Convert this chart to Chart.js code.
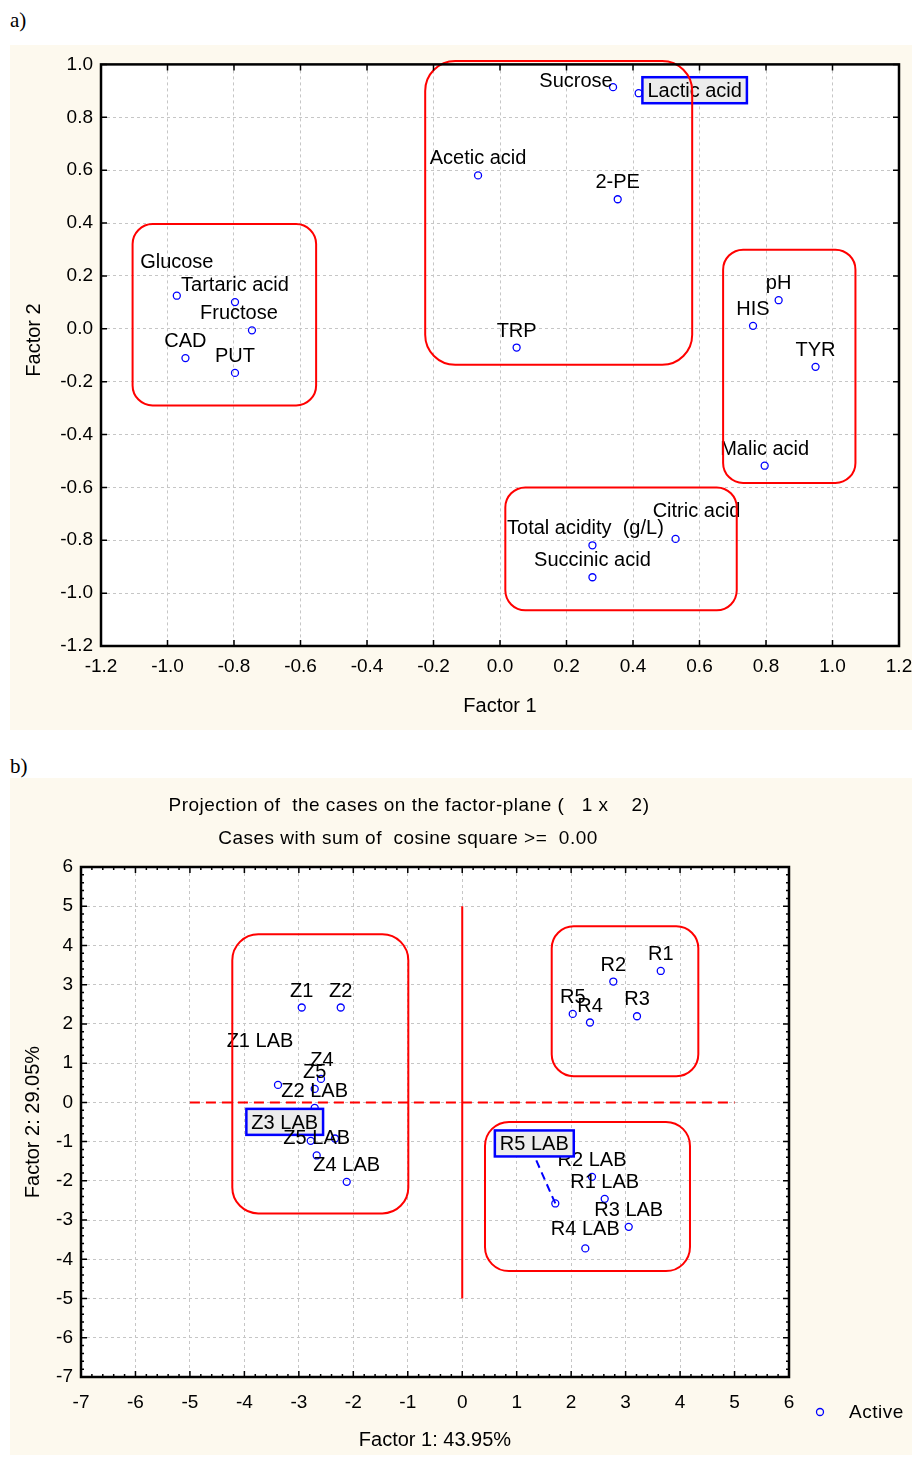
<!DOCTYPE html>
<html lang="en">
<head>
<meta charset="UTF-8">
<title>Factor analysis: loadings and case projection</title>
<script src="https://cdn.jsdelivr.net/npm/chart.js"></script>
<style>
  body { margin: 0; background: #fff; width: 914px; height: 1457px; position: relative; overflow: hidden; }
  .tag { position: absolute; left: 10px; font: 21px "Liberation Serif", "Times New Roman", serif; line-height: 24px; }
  .panel { position: absolute; left: 10px; background: #fdf9ee; }
</style>
</head>
<body>

<div class="tag" style="top:8px">a)</div>
<canvas id="loadingsChart" class="panel" width="902" height="685" style="top:45px"></canvas>

<div class="tag" style="top:754px">b)</div>
<canvas id="casesChart" class="panel" width="902" height="677" style="top:778px"></canvas>

<script>
// a) factor loadings of the variables
const variableNames = ['Sucrose', 'Lactic acid', 'Acetic acid', '2-PE', 'TRP', 'Glucose', 'Tartaric acid',
  'Fructose', 'CAD', 'PUT', 'pH', 'HIS', 'TYR', 'Malic acid', 'Total acidity  (g/L)', 'Citric acid', 'Succinic acid'];
const factor1Loadings = [0.340, 0.417, -0.066, 0.354, 0.050, -0.972, -0.797, -0.746, -0.946, -0.797,
  0.838, 0.761, 0.949, 0.796, 0.278, 0.528, 0.278];
const factor2Loadings = [0.914, 0.891, 0.580, 0.490, -0.071, 0.125, 0.101, -0.006, -0.111, -0.167,
  0.108, 0.011, -0.144, -0.518, -0.819, -0.795, -0.940];
const loadingTicksX = [-1.2, -1.0, -0.8, -0.6, -0.4, -0.2, 0.0, 0.2, 0.4, 0.6, 0.8, 1.0, 1.2];
const loadingTicksY = [-1.2, -1.0, -0.8, -0.6, -0.4, -0.2, 0.0, 0.2, 0.4, 0.6, 0.8, 1.0];

// b) projection of the cases
const caseNames = ['Z1', 'Z2', 'Z3', 'Z4', 'Z5', 'Z1 LAB', 'Z2 LAB', 'Z3 LAB', 'Z4 LAB', 'Z5 LAB',
  'R1', 'R2', 'R3', 'R4', 'R5', 'R1 LAB', 'R2 LAB', 'R3 LAB', 'R4 LAB', 'R5 LAB'];
const factor1Scores = [-2.947, -2.231, -2.336, -2.593, -2.709, -3.383, -2.709, -2.782, -2.121, -2.672,
  3.645, 2.774, 3.209, 2.346, 2.029, 2.616, 2.383, 3.057, 2.260, 1.709];
const factor2Scores = [2.418, 2.418, -0.920, 0.599, 0.344, 0.446, -0.140, -0.981, -2.025, -1.353,
  3.350, 3.080, 2.196, 2.036, 2.255, -2.459, -1.898, -3.172, -3.722, -2.576];
const caseTicks = [-7, -6, -5, -4, -3, -2, -1, 0, 1, 2, 3, 4, 5, 6];

// groups circled on the plots (data coordinates)
const loadingGroups = [
  { x1: -1.105, x2: -0.553, y1: 0.396, y2: -0.290, r: 20 },
  { x1: -0.225, x2: 0.578, y1: 1.013, y2: -0.136, r: 30 },
  { x1: 0.671, x2: 1.069, y1: 0.299, y2: -0.583, r: 20 },
  { x1: 0.016, x2: 0.712, y1: -0.600, y2: -1.065, r: 20 }
];
const caseGroups = [
  { x1: -4.222, x2: -0.990, y1: 4.285, y2: -2.831, r: 26 },
  { x1: 1.643, x2: 4.335, y1: 4.489, y2: 0.667, r: 22 },
  { x1: 0.418, x2: 4.182, y1: -0.497, y2: -4.301, r: 24 }
];

// labels moved away from the default place above the point (pixels)
const loadingLabelPos = {
  'Sucrose': { dx: -37, dy: 0 },
  'Lactic acid': { dx: 56, dy: 4, boxed: true },
  'Glucose': { dx: 0, dy: -28 },
  'Fructose': { dx: -13, dy: -11 },
  'Total acidity  (g/L)': { dx: -7, dy: -11 },
  'Citric acid': { dx: 21, dy: -22 }
};
const caseLabelPos = {
  'Z3': { hide: true },
  'Z4': { dx: 1, dy: -13 },
  'Z1 LAB': { dx: -18, dy: -38 },
  'Z3 LAB': { dx: -26, dy: -12, boxed: true },
  'R4 LAB': { dx: 0, dy: -13 },
  'R5 LAB': { dx: -21, dy: -53, boxed: true, leader: [-19, -43] }
};

const FONT = '"Liberation Sans", Arial, sans-serif';
Chart.defaults.font.family = FONT;
Chart.defaults.font.size = 19;
Chart.defaults.color = '#000';

function fixed1(v) {
  return Math.abs(v) < 1e-9 ? '0.0' : Number(v).toFixed(1);
}

function toPoints(xs, ys) {
  return xs.map((x, i) => ({ x: x, y: ys[i] }));
}

// draws white plot area, point labels, red group boxes, frame and inner ticks
function overlay(cfg) {
  return {
    id: 'overlay',
    beforeDraw(chart) {
      const { ctx, chartArea: a } = chart;
      ctx.save();
      ctx.fillStyle = '#ffffff';
      ctx.fillRect(a.left, a.top, a.right - a.left, a.bottom - a.top);
      ctx.restore();
    },
    afterDatasetsDraw(chart) {
      const { ctx } = chart;
      const xs = chart.scales.x, ys = chart.scales.y;
      const pts = chart.getDatasetMeta(0).data;
      ctx.save();
      ctx.font = '20px ' + FONT;
      ctx.textAlign = 'center';
      ctx.textBaseline = 'alphabetic';
      cfg.names.forEach((name, i) => {
        const o = Object.assign({ dx: 0, dy: -11 }, cfg.labelPos[name] || {});
        if (o.hide) return;
        const p = pts[i];
        const tx = p.x + o.dx, ty = p.y + o.dy;
        if (o.boxed) {
          const w = ctx.measureText(name).width + 10;
          if (o.leader) {
            ctx.save();
            ctx.strokeStyle = '#0000ff';
            ctx.lineWidth = 2;
            ctx.setLineDash([8, 5]);
            ctx.beginPath();
            ctx.moveTo(p.x + o.leader[0], p.y + o.leader[1]);
            ctx.lineTo(p.x, p.y);
            ctx.stroke();
            ctx.restore();
          }
          ctx.fillStyle = '#ececec';
          ctx.fillRect(tx - w / 2, ty - 20, w, 26);
          ctx.strokeStyle = '#0000ff';
          ctx.lineWidth = 2.5;
          ctx.strokeRect(tx - w / 2, ty - 20, w, 26);
        }
        ctx.fillStyle = '#000';
        ctx.fillText(name, tx, ty);
      });
      ctx.strokeStyle = '#ff0000';
      ctx.lineWidth = 2;
      cfg.groups.forEach(g => {
        const x1 = xs.getPixelForValue(g.x1), x2 = xs.getPixelForValue(g.x2);
        const y1 = ys.getPixelForValue(g.y1), y2 = ys.getPixelForValue(g.y2);
        ctx.beginPath();
        ctx.roundRect(x1, y1, x2 - x1, y2 - y1, g.r);
        ctx.stroke();
      });
      ctx.restore();
    },
    afterDraw(chart) {
      const { ctx, chartArea: a } = chart;
      const xs = chart.scales.x, ys = chart.scales.y;
      ctx.save();
      ctx.strokeStyle = '#000';
      ctx.lineWidth = 1.5;
      ctx.beginPath();
      const tick = (v, len, horiz) => {
        if (horiz) {
          const px = xs.getPixelForValue(v);
          ctx.moveTo(px, a.bottom); ctx.lineTo(px, a.bottom - len);
          ctx.moveTo(px, a.top); ctx.lineTo(px, a.top + len);
        } else {
          const py = ys.getPixelForValue(v);
          ctx.moveTo(a.left, py); ctx.lineTo(a.left + len, py);
          ctx.moveTo(a.right, py); ctx.lineTo(a.right - len, py);
        }
      };
      if (cfg.minorStep) {
        for (let v = xs.min; v <= xs.max + 1e-9; v += cfg.minorStep) tick(v, 3, true);
        for (let v = ys.min; v <= ys.max + 1e-9; v += cfg.minorStep) tick(v, 3, false);
      }
      xs.ticks.forEach(t => tick(t.value, 6, true));
      ys.ticks.forEach(t => tick(t.value, 6, false));
      ctx.stroke();
      ctx.lineWidth = 2.5;
      ctx.strokeRect(a.left, a.top, a.right - a.left, a.bottom - a.top);
      ctx.restore();
      if (cfg.after) cfg.after(ctx);
    }
  };
}

function scaleOptions(o) {
  return {
    type: 'linear',
    min: o.ticks[0],
    max: o.ticks[o.ticks.length - 1],
    afterBuildTicks: s => { s.ticks = o.ticks.map(v => ({ value: v })); },
    afterFit: s => {
      if (o.horizontal) s.height = o.size; else s.width = o.size;
      s.paddingLeft = 0; s.paddingRight = 0;
    },
    ticks: { callback: o.fmt, padding: o.pad, autoSkip: false, maxRotation: 0, font: { size: 19 } },
    grid: { color: '#c6c6c6', lineWidth: 1, drawTicks: false },
    border: { display: false, dash: [3, 3] },
    title: { display: o.title !== '', text: o.title, font: { size: 20 }, padding: o.titlePad }
  };
}

new Chart(document.getElementById('loadingsChart'), {
  type: 'scatter',
  data: {
    datasets: [{
      label: 'Variables',
      data: toPoints(factor1Loadings, factor2Loadings),
      pointStyle: 'circle',
      pointRadius: 3.5,
      borderColor: '#0000ff',
      backgroundColor: 'rgba(0,0,0,0)',
      borderWidth: 1.3
    }]
  },
  options: {
    responsive: false,
    animation: false,
    events: [],
    layout: { padding: { top: 19, right: 13, left: 0, bottom: 0 } },
    plugins: { legend: { display: false }, tooltip: { enabled: false } },
    scales: {
      x: scaleOptions({ ticks: loadingTicksX, horizontal: true, size: 84, fmt: fixed1, pad: 9,
        title: 'Factor 1', titlePad: { top: 0, bottom: 12 } }),
      y: scaleOptions({ ticks: loadingTicksY, horizontal: false, size: 91, fmt: fixed1, pad: 8,
        title: '', titlePad: 0 })
    }
  },
  plugins: [overlay({
    names: variableNames, labelPos: loadingLabelPos, groups: loadingGroups,
    after: ctx => {
      // y axis title sits a little above the middle of the axis in the original
      ctx.save();
      ctx.fillStyle = '#000';
      ctx.font = '20px ' + FONT;
      ctx.textAlign = 'center';
      ctx.textBaseline = 'middle';
      ctx.translate(24, 295);
      ctx.rotate(-Math.PI / 2);
      ctx.fillText('Factor 2', 0, 0);
      ctx.restore();
    }
  })]
});

new Chart(document.getElementById('casesChart'), {
  type: 'scatter',
  data: {
    datasets: [{
      label: 'Active',
      data: toPoints(factor1Scores, factor2Scores),
      pointStyle: 'circle',
      pointRadius: 3.5,
      borderColor: '#0000ff',
      backgroundColor: 'rgba(0,0,0,0)',
      borderWidth: 1.3
    }, {
      label: 'Factor 1 = 0',
      data: [{ x: 0, y: -5 }, { x: 0, y: 5 }],
      showLine: true,
      pointRadius: 0,
      borderColor: '#ff0000',
      borderWidth: 2
    }, {
      label: 'Factor 2 = 0',
      data: [{ x: -5, y: 0 }, { x: 5, y: 0 }],
      showLine: true,
      pointRadius: 0,
      borderColor: '#ff0000',
      borderWidth: 2,
      borderDash: [10, 6]
    }]
  },
  options: {
    responsive: false,
    animation: false,
    events: [],
    layout: { padding: { top: 89, right: 123, left: 0, bottom: 0 } },
    plugins: { legend: { display: false }, tooltip: { enabled: false } },
    scales: {
      x: scaleOptions({ ticks: caseTicks, horizontal: true, size: 78, fmt: v => String(v), pad: 14,
        title: 'Factor 1: 43.95%', titlePad: { top: 0, bottom: 3 } }),
      y: scaleOptions({ ticks: caseTicks, horizontal: false, size: 71, fmt: v => String(v), pad: 8,
        title: 'Factor 2: 29.05%', titlePad: { top: 11, bottom: 0 } })
    }
  },
  plugins: [overlay({
    names: caseNames, labelPos: caseLabelPos, groups: caseGroups, minorStep: 0.2,
    after: ctx => {
      ctx.save();
      ctx.fillStyle = '#000';
      ctx.font = '19px ' + FONT;
      ctx.letterSpacing = '0.5px';
      ctx.textAlign = 'center';
      ctx.textBaseline = 'middle';
      ctx.fillText('Projection of  the cases on the factor-plane (   1 x    2)', 399, 28);
      ctx.fillText('Cases with sum of  cosine square >=  0.00', 398, 61);
      // legend
      ctx.strokeStyle = '#0000ff';
      ctx.lineWidth = 1.3;
      ctx.beginPath();
      ctx.arc(810, 634, 3.5, 0, Math.PI * 2);
      ctx.stroke();
      ctx.textAlign = 'left';
      ctx.fillText('Active', 839, 635);
      ctx.restore();
    }
  })]
});
</script>

</body>
</html>
